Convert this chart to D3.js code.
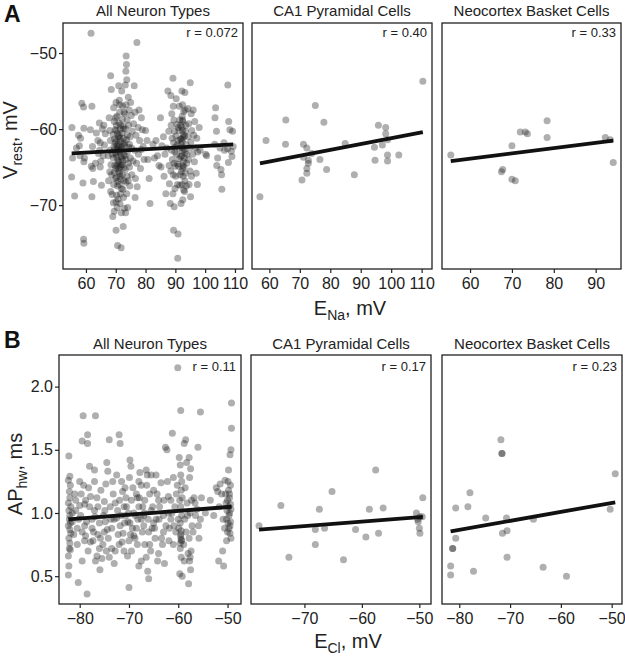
<!DOCTYPE html>
<html><head><meta charset="utf-8">
<script src="https://cdn.jsdelivr.net/npm/d3@7"></script>
<style>body{margin:0;background:#fff} text{font-family:"Liberation Sans",Arial,Helvetica,sans-serif;fill:#222}</style>
</head><body><svg id="c" width="625" height="665"></svg>
<script>
const titles = ["All Neuron Types","CA1 Pyramidal Cells","Neocortex Basket Cells"];
const rRest = ["r = 0.072","r = 0.40","r = 0.33"];
const rAphw = ["r = 0.11","r = 0.17","r = 0.23"];

// Panel A: E_Na (mV) vs V_rest (mV)
const restAll = [
[55.3,-59.8],[55.5,-63.8],[55.2,-66.3],[56.2,-68.8],[57.5,-60.8],[57.8,-62.2],[58.2,-61.2],[58.6,-56.6],[59.2,-57.1],[59.3,-59.9],[59.5,-63.8],[59.3,-64.3],[59.0,-67.1],[59.2,-74.5],[59.3,-75.0],[56.8,-62.5],[58.0,-63.5],
[61.7,-47.4],[62.0,-57.0],[61.5,-60.1],[62.2,-62.3],[61.8,-64.9],[62.3,-65.2],[62.5,-66.9],[62.0,-68.9],[63.5,-60.5],[64.0,-61.5],[64.5,-59.2],[64.8,-61.8],[64.2,-63.2],[65.0,-64.2],[64.6,-62.8],[65.5,-60.0],[65.8,-63.5],[63.2,-64.5],[64.8,-65.0],[65.2,-67.4],[66.0,-59.5],[66.5,-60.6],[66.2,-62.1],
[68.3,-53.0],[68.5,-54.8],[67.8,-58.5],[68.0,-60.2],[68.2,-61.5],[68.0,-62.8],[67.5,-63.5],[68.4,-64.7],[68.0,-65.6],[67.6,-66.8],[68.3,-68.2],[68.8,-68.6],[69.2,-69.7],[69.0,-71.5],[69.5,-70.8],[69.3,-57.2],[69.5,-59.0],[69.8,-60.1],[69.6,-61.3],[69.4,-62.3],[69.9,-63.1],[69.2,-63.8],[69.7,-64.8],[69.5,-65.7],[69.8,-66.5],[69.3,-67.3],
[70.1,-56.5],[70.4,-58.3],[70.2,-59.5],[70.6,-60.6],[70.3,-61.5],[70.8,-62.0],[70.5,-62.6],[70.1,-63.3],[70.7,-64.1],[70.4,-64.9],[70.9,-65.6],[70.2,-66.4],[70.6,-67.5],[70.3,-68.7],[70.8,-69.2],[70.5,-70.3],[70.1,-73.3],[70.6,-75.3],
[71.0,-54.3],[71.2,-56.2],[71.3,-57.8],[71.1,-59.2],[71.5,-60.0],[71.2,-60.8],[71.6,-61.6],[71.0,-62.3],[71.4,-63.0],[71.8,-63.6],[71.1,-64.3],[71.5,-65.0],[71.3,-65.8],[71.7,-66.6],[71.2,-67.3],[71.6,-68.5],[71.4,-69.8],[71.9,-71.0],[71.8,-75.6],
[72.0,-55.0],[72.3,-57.0],[72.2,-58.7],[72.5,-59.6],[72.1,-60.5],[72.6,-61.2],[72.4,-62.0],[72.0,-62.7],[72.7,-63.4],[72.3,-64.2],[72.6,-65.1],[72.2,-66.0],[72.8,-66.8],[72.4,-67.9],[72.9,-70.4],[72.5,-72.8],
[73.2,-54.2],[73.5,-50.4],[73.6,-51.5],[73.4,-52.4],[73.7,-53.5],[73.4,-56.8],[73.1,-58.0],[73.8,-58.8],[73.3,-60.0],[73.6,-61.4],[73.0,-62.2],[73.9,-63.0],[73.5,-64.0],[73.2,-65.3],[73.8,-66.2],[73.4,-67.0],[73.7,-68.5],[73.3,-71.0],[74.0,-70.3],
[74.2,-55.8],[74.5,-57.5],[74.3,-59.5],[74.8,-61.0],[74.4,-62.4],[74.9,-63.8],[74.6,-65.0],[74.2,-66.8],[74.7,-67.5],[75.2,-58.2],[75.5,-60.3],[75.3,-62.5],[75.8,-64.2],[75.4,-66.0],[75.0,-56.5],
[70.9,-61.0],[71.3,-62.8],[70.4,-63.7],[71.8,-64.7],[72.9,-61.8],[70.0,-65.2],[72.1,-63.8],[69.6,-62.7],[71.5,-66.2],[73.1,-63.5],
[69.8,-61.8],[70.3,-62.2],[70.9,-62.9],[71.4,-61.2],[71.9,-62.4],[70.6,-64.6],[71.1,-65.2],[72.2,-64.7],[70.2,-60.2],[71.6,-59.5],[72.6,-60.0],[69.9,-58.5],[73.9,-60.8],[74.2,-64.5],[70.7,-66.9],[71.9,-67.8],[72.6,-69.0],[70.1,-69.6],[71.3,-56.8],[72.8,-57.8],[68.8,-63.3],[68.6,-66.0],[69.1,-60.7],[74.6,-62.0],
[76.2,-54.3],[76.5,-57.8],[76.0,-59.3],[76.8,-60.8],[76.4,-62.8],[77.0,-64.5],[76.6,-66.5],[77.2,-67.6],[76.5,-69.0],[77.1,-48.6],[77.8,-57.5],[77.5,-59.8],[78.0,-61.5],[77.6,-63.3],[78.3,-65.2],[78.6,-58.5],[78.9,-60.1],[79.2,-62.3],[79.5,-64.0],[78.5,-62.7],[80.5,-61.5],[80.8,-64.0],[81.2,-66.5],[81.5,-69.8],[80.0,-60.2],
[82.5,-62.0],[83.0,-63.8],[83.5,-61.5],[84.0,-63.5],[84.5,-64.8],[85.0,-58.5],[85.5,-62.2],[85.2,-65.0],[86.0,-61.0],[86.5,-63.3],[86.2,-66.2],[86.8,-68.5],[87.5,-55.0],[87.8,-60.3],[87.2,-62.5],[87.9,-64.8],[88.0,-67.2],[88.3,-69.8],
[88.5,-55.6],[88.8,-58.0],[88.6,-59.5],[88.9,-61.2],[88.7,-62.8],[89.0,-64.0],[88.5,-65.5],[89.2,-53.3],[89.3,-57.0],[89.5,-58.8],[89.7,-60.3],[89.4,-61.8],[89.8,-63.0],[89.6,-64.5],[89.3,-66.0],[89.9,-67.8],[89.2,-68.5],[89.6,-70.2],[89.4,-73.3],
[90.3,-56.0],[90.5,-59.4],[90.2,-60.9],[90.6,-62.1],[90.4,-63.3],[90.8,-64.6],[90.1,-66.2],[90.7,-67.3],[90.9,-73.8],[90.8,-77.0],
[91.3,-57.0],[91.5,-58.8],[91.2,-60.2],[91.7,-61.3],[91.4,-62.5],[91.8,-63.6],[91.1,-64.9],[91.6,-66.0],[91.9,-69.8],
[92.2,-55.0],[92.4,-56.8],[92.3,-58.3],[92.5,-59.0],[92.2,-59.8],[92.6,-60.7],[92.3,-61.6],[92.5,-62.4],[92.2,-63.5],[92.7,-64.3],[92.4,-65.2],[92.6,-66.2],[92.3,-67.3],[92.8,-68.0],[92.5,-69.3],
[93.2,-55.2],[93.3,-57.5],[93.5,-59.5],[93.1,-60.9],[93.6,-62.0],[93.3,-63.1],[93.8,-64.5],[93.4,-65.8],[93.7,-67.5],[93.1,-68.2],
[92.4,-60.2],[92.6,-61.1],[92.3,-62.9],[92.5,-64.8],[92.4,-58.8],[91.9,-62.0],[93.0,-63.8],
[91.8,-59.5],[92.1,-61.3],[92.9,-62.7],[91.3,-63.9],[93.4,-60.3],[92.0,-65.6],[93.2,-66.8],[90.9,-61.5],[91.0,-59.8],[92.8,-57.7],[89.9,-62.4],[93.9,-63.3],[90.0,-64.9],[92.9,-65.0],[91.5,-67.4],
[94.2,-57.3],[94.5,-59.3],[94.3,-61.0],[94.8,-62.5],[94.4,-64.0],[94.9,-65.5],[94.6,-67.3],[95.0,-53.9],[95.3,-58.0],[95.5,-60.2],[95.2,-61.7],[95.8,-63.3],[95.4,-66.2],[95.1,-68.9],
[96.0,-57.5],[96.5,-59.0],[96.2,-60.8],[96.8,-62.5],[96.4,-64.3],[97.2,-61.2],[97.5,-63.0],[97.0,-65.8],[97.4,-67.3],[98.0,-59.8],[98.3,-62.8],[100.2,-63.3],[100.5,-63.5],
[103.5,-57.2],[103.3,-58.5],[103.8,-60.3],[103.2,-62.0],[104.2,-63.8],[103.9,-64.8],[105.0,-62.5],[105.3,-65.3],[105.5,-66.0],[105.6,-67.9],[106.5,-62.8],[106.3,-61.8],
[107.6,-54.2],[107.9,-59.0],[108.3,-60.1],[107.5,-62.6],[107.8,-64.4],[108.8,-62.9],[109.2,-60.3],[109.4,-62.3],[109.0,-63.6]
];
const restCA1 = [
[56.9,-68.9],[58.9,-61.5],[65.4,-58.8],[65.3,-62.0],[75.1,-56.9],[77.9,-59.1],[71.2,-62.0],[72.3,-62.5],[71.2,-63.7],[72.8,-64.1],[72.8,-64.5],[72.3,-65.2],[72.3,-65.8],[70.7,-66.7],[73.9,-63.2],[76.6,-64.0],[78.8,-65.3],[84.9,-61.9],[87.9,-66.0],[94.5,-62.4],[94.7,-64.1],[95.8,-59.5],[98.2,-59.8],[98.2,-60.6],[97.1,-62.1],[98.8,-61.4],[98.8,-63.4],[98.8,-64.2],[102.5,-63.4],[110.4,-53.7]
];
const restBasket = [
[55.4,-63.4],[70.0,-62.2],[72.0,-60.4],[73.2,-60.4],[73.7,-60.6],[78.4,-58.9],[78.4,-61.1],[67.5,-65.6],[67.8,-65.3],[70.0,-66.6],[70.8,-66.8],[92.3,-61.1],[93.5,-61.4],[94.2,-64.4]
];

// Panel B: E_Cl (mV) vs AP half-width (ms)
const aphwAll = [
[-82.2,1.45],[-82.0,1.29],[-82.3,1.26],[-81.9,1.22],[-82.1,1.17],[-82.0,1.12],[-82.3,1.08],[-81.8,1.05],[-82.2,1.02],[-82.0,0.98],[-82.1,0.95],[-81.9,0.92],[-82.3,0.90],[-82.0,0.87],[-81.8,0.84],[-82.2,0.80],[-82.0,0.76],[-82.1,0.72],[-81.9,0.71],[-82.3,0.66],[-82.2,0.58],[-82.3,0.51],
[-80.3,0.45],[-78.5,0.36],[-79.5,0.62],[-80.5,0.88],[-80.0,1.06],[-79.2,1.22],[-79.8,0.98],[-78.8,0.82],[-79.0,1.07],[-80.8,1.02],[-78.2,1.20],[-78.6,0.93],[-79.5,1.57],[-79.3,1.77],[-78.4,1.62],[-78.4,1.55],[-78.0,1.37],[-77.5,0.95],[-77.8,0.77],[-77.2,0.85],[-77.0,1.34],[-76.8,1.77],[-76.5,1.12],[-76.3,1.05],[-76.0,0.72],[-76.5,0.66],[-75.8,0.80],[-75.5,0.64],[-75.9,0.55],[-75.0,1.09],[-74.7,1.23],[-74.5,1.40],[-74.3,1.33],[-74.0,1.58],[-74.8,0.93],[-74.2,0.80],[-74.6,0.70],[-73.8,1.05],[-73.5,0.88],[-73.0,0.60],[-72.8,1.08],[-72.5,0.96],[-72.2,0.83],[-72.0,1.62],[-71.8,1.55],[-71.5,1.25],[-71.3,1.17],[-71.6,0.98],[-71.2,0.84],[-71.0,0.70],[-70.8,1.20],[-70.5,1.05],[-70.2,0.93],[-70.0,0.41],[-70.3,0.66],[-69.8,1.42],[-69.6,1.37],[-69.9,1.28],[-69.5,1.10],[-69.3,0.88],[-69.0,1.00],[-68.8,0.80],[-68.5,1.15],[-68.3,1.12],[-68.2,0.95],[-68.0,0.58],[-67.8,1.32],[-67.5,1.22],[-67.2,1.05],[-67.0,0.90],[-66.8,0.75],[-66.5,1.34],[-66.3,1.30],[-66.2,0.54],[-66.0,0.48],[-66.5,0.65],[-65.8,1.15],[-65.5,1.02],[-65.3,0.88],[-65.0,1.18],[-64.7,0.80],[-64.5,0.95],[-64.2,0.62],[-63.8,1.05],[-63.5,1.24],[-63.2,0.75],[-63.0,0.98],[-62.6,1.52],[-62.3,1.50],[-62.0,1.13],[-61.8,0.88],[-61.5,0.95],[-61.2,1.63],[-61.0,1.28],[-60.7,1.05],[-60.5,0.85],[-60.2,1.22],
[-77.0,1.02],[-76.0,0.92],[-75.2,0.98],[-73.2,1.15],[-72.0,0.75],[-71.0,1.05],[-70.0,0.78],[-69.0,0.82],[-68.0,1.05],[-67.0,0.98],[-66.0,0.85],[-65.0,0.92],[-64.0,1.10],[-63.0,0.85],[-62.0,1.00],[-61.0,0.75],[-77.5,0.88],[-76.8,0.62],[-73.5,0.72],[-72.5,1.30],[-69.5,0.70],[-67.5,0.62],[-65.5,1.30],[-64.0,0.68],[-62.8,0.60],[-61.5,1.10],
[-80.8,1.10],[-79.0,0.90],[-78.0,1.05],[-75.0,0.85],[-73.0,0.95],[-71.8,0.90],[-70.7,0.98],[-69.8,0.92],[-68.5,0.88],[-67.5,0.95],[-66.8,1.10],[-65.8,0.75],
[-81.5,1.00],[-81.5,0.93],[-81.2,0.83],[-81.0,1.15],[-80.5,0.75],[-80.2,0.95],[-79.7,1.15],[-79.5,0.85],[-79.0,0.78],[-78.8,1.10],[-78.3,0.70],[-77.8,1.13],[-77.3,0.78],[-76.9,0.97],[-76.3,0.83],[-75.7,1.18],[-75.3,0.75],[-74.9,1.02],[-74.4,0.87],[-74.0,0.65],[-73.7,0.95],[-73.3,1.25],[-72.8,0.70],[-72.3,1.02],[-71.9,1.10],[-71.4,0.77],[-70.9,0.92],[-70.6,1.12],[-70.1,1.00],[-69.7,0.83],[-69.2,1.20],[-68.7,0.98],[-68.3,0.75],[-67.9,1.12],[-67.3,0.85],[-66.9,1.00],[-66.4,1.22],[-66.1,0.95],[-65.6,0.70],[-65.2,1.05],[-64.8,0.88],[-64.3,1.15],[-63.9,0.95],[-63.4,0.80],[-62.9,1.10],[-62.5,0.90],[-61.9,0.78],[-61.3,1.00],[-60.9,0.90],[-60.4,1.15],[-60.0,0.95],
[-80.0,1.25],[-77.0,1.25],[-68.0,1.25],[-64.5,1.30],[-62.2,1.25],
[-59.8,1.44],[-59.6,1.38],[-59.5,1.30],[-59.3,1.25],[-59.4,1.18],[-59.7,1.10],[-59.5,1.05],[-59.3,0.98],[-59.6,0.92],[-59.4,0.86],[-59.5,0.81],[-59.3,0.78],[-59.6,0.72],[-59.4,0.65],[-59.7,0.52],[-59.2,0.50],[-59.5,1.81],[-58.5,1.58],[-58.8,1.55],[-58.3,1.40],[-58.6,1.20],[-58.2,1.08],[-58.7,0.95],[-58.4,0.85],[-58.8,0.62],[-57.8,1.44],[-57.5,1.35],[-57.7,1.28],[-57.3,1.10],[-57.6,1.00],[-57.2,0.90],[-57.8,0.80],[-57.4,0.70],[-57.6,0.65],[-57.5,0.55],[-57.9,0.44],[-56.8,1.12],[-56.5,0.98],[-56.2,1.03],[-56.0,1.52],[-55.8,0.80],[-55.5,1.80],[-55.5,0.95],[-55.3,1.12],[-54.5,1.00],
[-59.5,0.83],[-59.4,0.79],[-59.6,0.76],[-58.0,0.68],[-57.7,0.62],[-59.9,0.88],[-59.2,1.12],[-58.9,0.75],[-58.1,0.98],[-57.0,0.85],[-56.6,1.08],[-55.9,0.90],
[-53.5,1.10],[-52.8,0.98],[-51.7,1.05],[-50.9,0.95],[-50.4,1.15],[-50.0,0.85],[-49.5,0.90],[-49.8,1.18],[-49.4,1.07],[-50.2,0.78],[-49.9,1.25],
[-52.3,1.20],[-52.0,1.17],[-51.5,1.23],[-51.8,0.62],[-51.2,1.15],[-51.0,0.70],[-50.8,0.58],[-50.5,1.26],[-50.3,1.08],[-50.2,0.95],[-50.6,0.88],[-50.0,1.10],[-49.8,1.05],[-49.6,1.00],[-49.4,0.93],[-49.7,0.88],[-49.5,0.84],[-49.3,0.80],[-49.6,1.15],[-49.4,1.22],[-49.8,1.34],[-49.5,1.46],[-49.3,1.50],[-49.2,1.67],[-49.2,1.87],[-49.7,0.98],[-49.9,0.92],[-49.3,1.03],[-49.6,1.12],[-50.1,1.02],
[-60.1,2.15]
];
const aphwCA1 = [
[-77.9,0.90],[-74.1,1.06],[-72.7,0.65],[-68.1,0.87],[-68.1,0.75],[-67.4,1.03],[-66.5,0.88],[-65.2,1.17],[-63.2,0.63],[-61.1,0.87],[-59.3,0.81],[-58.7,1.03],[-57.6,1.34],[-57.1,0.84],[-56.3,1.04],[-50.5,1.00],[-50.2,0.93],[-49.9,0.97],[-50.0,0.88],[-49.9,0.84],[-49.4,1.12],[-49.5,0.97],[-50.3,0.95]
];
const aphwBasket = [
[-71.8,1.58],[-71.6,1.47],[-71.6,1.47],[-77.9,1.16],[-80.7,1.04],[-78.3,1.05],[-74.8,0.96],[-70.7,0.96],[-65.4,0.95],[-71.5,0.84],[-70.6,0.86],[-80.7,0.80],[-81.3,0.72],[-81.3,0.72],[-70.6,0.65],[-81.7,0.58],[-81.7,0.51],[-77.2,0.54],[-63.5,0.57],[-58.9,0.50],[-50.3,1.03],[-49.3,1.31]
];

// fitted regression lines: [slope, intercept]
const restFits = [[0.0222,-64.43],[0.0771,-68.91],[0.0696,-68.06]];
const aphwFits = [[0.0030,1.197],[0.00353,1.144],[0.0071,1.435]];

const restXTicks = [[60,70,80,90,100,110],[60,70,80,90,100,110],[60,70,80,90]];
const restYTicks = [-50,-60,-70];
const aphwXTicks = [[-80,-70,-60,-50],[-70,-60,-50],[-80,-70,-60,-50]];
const aphwYTicks = [0.5,1.0,1.5,2.0];

const svg = d3.select("#c");

function drawRow(cfg){
  const {top,bottom,cols,xDomains,yDomain,datasets,fits,xTicks,yTicks,yFmt,rLabels,rOff,letter,letterY,titleY} = cfg;
  const y = d3.scaleLinear().domain(yDomain).range([bottom,top]);
  svg.append("text").attr("x",4).attr("y",letterY).attr("font-size",23).attr("font-weight","bold").style("fill","#111").text(letter);
  cols.forEach((c,i)=>{
    const x = d3.scaleLinear().domain(xDomains[i]).range(c);
    const g = svg.append("g");
    g.append("text").attr("x",(c[0]+c[1])/2).attr("y",titleY).attr("text-anchor","middle").attr("font-size",15).text(titles[i]);
    g.selectAll("circle").data(datasets[i]).join("circle")
      .attr("cx",d=>x(d[0])).attr("cy",d=>y(d[1])).attr("r",3.5)
      .attr("fill","#1a1a1a").attr("fill-opacity",0.35);
    const xs = d3.extent(datasets[i],d=>d[0]);
    const [m,b] = fits[i];
    g.append("line").attr("x1",x(xs[0])).attr("x2",x(xs[1]))
      .attr("y1",y(m*xs[0]+b)).attr("y2",y(m*xs[1]+b))
      .attr("stroke","#111").attr("stroke-width",3.8);
    g.append("rect").attr("x",c[0]).attr("y",top).attr("width",c[1]-c[0]).attr("height",bottom-top)
      .attr("fill","none").attr("stroke","#222").attr("stroke-width",1.3);
    g.append("text").attr("x",c[1]-5).attr("y",top+rOff).attr("text-anchor","end").attr("font-size",13).text(rLabels[i]);
    const ax = g.append("g").attr("transform",`translate(0,${bottom})`)
      .call(d3.axisBottom(x).tickValues(xTicks[i]).tickSize(4).tickSizeOuter(0).tickPadding(5));
    ax.select(".domain").remove();
    ax.selectAll("text").attr("font-size",16);
    ax.selectAll("line").attr("stroke","#222").attr("stroke-width",1.2);
    if(i===0){
      const ay = g.append("g").attr("transform",`translate(${c[0]},0)`)
        .call(d3.axisLeft(y).tickValues(yTicks).tickSize(4).tickPadding(2).tickFormat(yFmt));
      ay.select(".domain").remove();
      ay.selectAll("text").attr("font-size",16);
      ay.selectAll("line").attr("stroke","#222").attr("stroke-width",1.2);
    }
  });
  svg.selectAll(".tick text").attr("font-family",null);
}

drawRow({top:23,bottom:269,cols:[[63,243],[252,432],[442,621]],
  xDomains:[[52.3,112.7],[54.3,113.4],[53.3,96.05]],yDomain:[-78.4,-46.05],
  datasets:[restAll,restCA1,restBasket],fits:restFits,xTicks:restXTicks,yTicks:restYTicks,
  yFmt:d3.format("d"),rLabels:rRest,rOff:14,letter:"A",letterY:22,titleY:16});
drawRow({top:355,bottom:604,cols:[[59,241],[251,431],[442,622]],
  xDomains:[[-84.2,-47.27],[-79.3,-47.97],[-83.4,-47.97]],yDomain:[0.28,2.25],
  datasets:[aphwAll,aphwCA1,aphwBasket],fits:aphwFits,xTicks:aphwXTicks,yTicks:aphwYTicks,
  yFmt:d3.format(".1f"),rLabels:rAphw,rOff:16,letter:"B",letterY:348,titleY:349});

// axis titles
function subLabel(parent, main, sub, rest){
  parent.append("tspan").text(main);
  parent.append("tspan").attr("font-size",14).attr("dy",5).text(sub);
  parent.append("tspan").attr("dy",-5).text(rest);
}
const t1 = svg.append("text").attr("x",350).attr("y",315).attr("text-anchor","middle").attr("font-size",20);
subLabel(t1,"E","Na",", mV");
const t2 = svg.append("text").attr("x",348).attr("y",648).attr("text-anchor","middle").attr("font-size",20);
subLabel(t2,"E","Cl",", mV");
const t3 = svg.append("text").attr("transform","translate(17,140) rotate(-90)").attr("text-anchor","middle").attr("font-size",20);
subLabel(t3,"V","rest",", mV");
const t4 = svg.append("text").attr("transform","translate(22,474) rotate(-90)").attr("text-anchor","middle").attr("font-size",20);
subLabel(t4,"AP","hw",", ms");
</script></body></html>
